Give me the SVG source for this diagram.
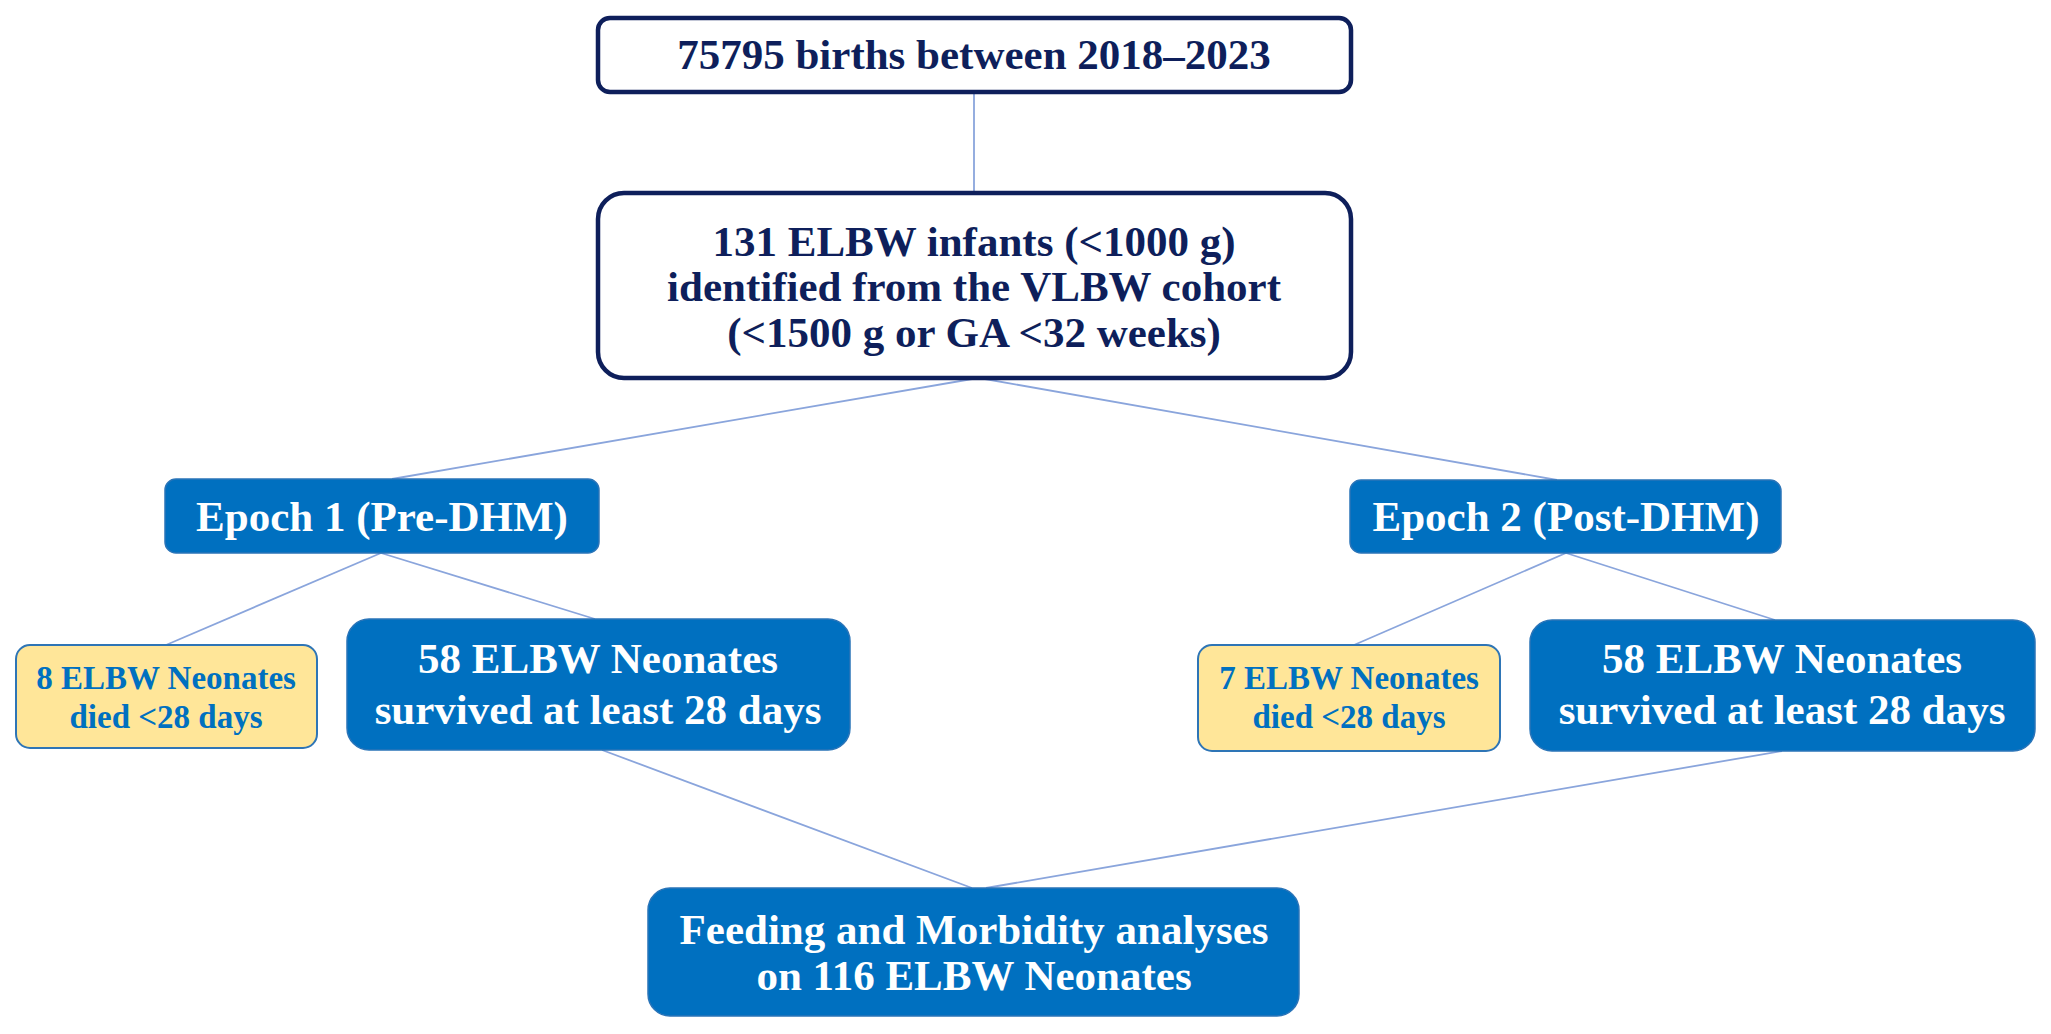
<svg xmlns="http://www.w3.org/2000/svg" width="2051" height="1034" viewBox="0 0 2051 1034">
<style>
.txt{font-family:"Liberation Serif","Times New Roman",serif;font-weight:bold;text-anchor:middle}
.navy{fill:#0E1F5B;font-size:43px}
.white{fill:#FFFFFF;font-size:43px}
.small{fill:#0070C0;font-size:33px}
.outline{fill:#FFFFFF;stroke:#0E1F5B;stroke-width:4.5}
.blue{fill:#0070C0;stroke:#2A74B8;stroke-width:1.5}
.yellow{fill:#FFE699;stroke:#2E75B6;stroke-width:2}
.conn{stroke:#8AA5DC;stroke-width:1.8;fill:none}
</style>
<rect width="2051" height="1034" fill="#FFFFFF"/>
<g id="connectors">
<line class="conn" x1="974" y1="92" x2="974" y2="192"/>
<line class="conn" x1="972" y1="379" x2="392" y2="479"/>
<line class="conn" x1="985" y1="379" x2="1557" y2="480"/>
<line class="conn" x1="381" y1="553" x2="166" y2="645"/>
<line class="conn" x1="381" y1="553" x2="595" y2="619"/>
<line class="conn" x1="1566" y1="553" x2="1354" y2="645"/>
<line class="conn" x1="1566" y1="553" x2="1775" y2="620"/>
<line class="conn" x1="602" y1="750" x2="972" y2="888"/>
<line class="conn" x1="1782" y1="751" x2="986" y2="888"/>
</g>
<g id="births">
<rect class="outline" x="598" y="18" width="753" height="74" rx="12"/>
<text class="txt navy" x="974" y="69">75795 births between 2018–2023</text>
</g>
<g id="elbw">
<rect class="outline" x="598" y="193" width="753" height="185" rx="26"/>
<text class="txt navy" x="974" y="256">131 ELBW infants (&lt;1000 g)</text>
<text class="txt navy" x="974" y="301">identified from the VLBW cohort</text>
<text class="txt navy" x="974" y="347">(&lt;1500 g or GA &lt;32 weeks)</text>
</g>
<g id="epoch1">
<rect class="blue" x="165" y="479" width="434" height="74" rx="11"/>
<text class="txt white" x="382" y="531">Epoch 1 (Pre-DHM)</text>
</g>
<g id="epoch2">
<rect class="blue" x="1350" y="480" width="431" height="73" rx="11"/>
<text class="txt white" x="1566" y="531">Epoch 2 (Post-DHM)</text>
</g>
<g id="died1">
<rect class="yellow" x="16" y="645" width="301" height="103" rx="14"/>
<text class="txt small" x="166" y="689">8 ELBW Neonates</text>
<text class="txt small" x="166" y="728">died &lt;28 days</text>
</g>
<g id="survived1">
<rect class="blue" x="347" y="619" width="503" height="131" rx="22"/>
<text class="txt white" x="598" y="673">58 ELBW Neonates</text>
<text class="txt white" x="598" y="724">survived at least 28 days</text>
</g>
<g id="died2">
<rect class="yellow" x="1198" y="645" width="302" height="106" rx="14"/>
<text class="txt small" x="1349" y="689">7 ELBW Neonates</text>
<text class="txt small" x="1349" y="728">died &lt;28 days</text>
</g>
<g id="survived2">
<rect class="blue" x="1530" y="620" width="505" height="131" rx="22"/>
<text class="txt white" x="1782" y="673">58 ELBW Neonates</text>
<text class="txt white" x="1782" y="724">survived at least 28 days</text>
</g>
<g id="analyses">
<rect class="blue" x="648" y="888" width="651" height="128" rx="22"/>
<text class="txt white" x="974" y="944">Feeding and Morbidity analyses</text>
<text class="txt white" x="974" y="990">on 116 ELBW Neonates</text>
</g>
</svg>
